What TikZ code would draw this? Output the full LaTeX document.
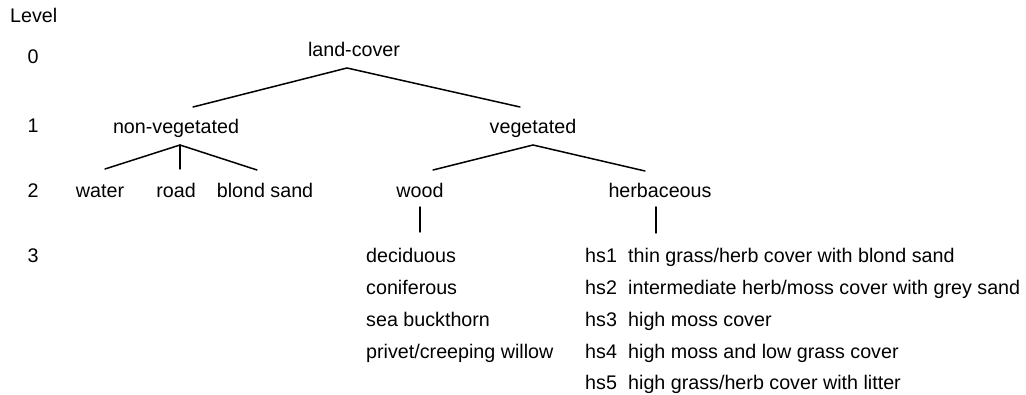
\documentclass[tikz,border=0pt]{standalone}
\usepackage{fontspec}
\setmainfont{Liberation Sans}
\begin{document}
\begin{tikzpicture}[x=1pt,y=-1pt,
  lbl/.style={inner sep=0pt, anchor=base, font=\fontsize{19.7}{24}\selectfont},
  lft/.style={lbl, anchor=base west},
  edge/.style={line width=1.5pt, line cap=round}]
\useasboundingbox (0,0) rectangle (1026,395);
% level column
\node[lft] (level) at (10,23) {Level};
\node[lbl] (l0) at (33,64) {0};
\node[lbl] (l1) at (33,133) {1};
\node[lbl] (l2) at (33,198) {2};
\node[lbl] (l3) at (33,263) {3};
% tree nodes
\node[lbl] (lc) at (354,57) {land-cover};
\node[lbl] (nv) at (176,134) {non-vegetated};
\node[lbl] (veg) at (533,134) {vegetated};
\node[lbl] (water) at (100,198) {water};
\node[lbl] (road) at (176,198) {road};
\node[lbl] (blond) at (265,198) {blond sand};
\node[lbl] (wood) at (420,198) {wood};
\node[lbl] (herb) at (660,198) {herbaceous};
% wood list
\node[lft] (w1) at (366,263) {deciduous};
\node[lft] (w2) at (366,294.7) {coniferous};
\node[lft] (w3) at (366,326.4) {sea buckthorn};
\node[lft] (w4) at (366,358.1) {privet/creeping willow};
% herbaceous list
\node[lft] (h1) at (585,263) {hs1};
\node[lft] (h2) at (585,294.7) {hs2};
\node[lft] (h3) at (585,326.4) {hs3};
\node[lft] (h4) at (585,358.1) {hs4};
\node[lft] (h5) at (585,389.8) {hs5};
\node[lft] (d1) at (628,263) {thin grass/herb cover with blond sand};
\node[lft] (d2) at (628,294.7) {intermediate herb/moss cover with grey sand};
\node[lft] (d3) at (628,326.4) {high moss cover};
\node[lft] (d4) at (628,358.1) {high moss and low grass cover};
\node[lft] (d5) at (628,389.8) {high grass/herb cover with litter};
% connector end points
\coordinate (lcB) at (347,68);
\coordinate (nvT) at (193,107);
\coordinate (vegT) at (520,107);
\coordinate (nvB) at (180,145);
\coordinate (waterT) at (105,169);
\coordinate (roadT) at (180,169);
\coordinate (blondT) at (257,170);
\coordinate (vegB) at (533,145);
\coordinate (woodT) at (433,170);
\coordinate (herbT) at (645,171);
\coordinate (woodB) at (420,207);
\coordinate (woodL) at (420,232);
\coordinate (herbB) at (656,207);
\coordinate (herbL) at (656,233);
% connectors
\draw[edge] (nvT) -- (lcB) -- (vegT);
\draw[edge] (waterT) -- (nvB) -- (blondT);
\draw[edge] (nvB) -- (roadT);
\draw[edge] (woodT) -- (vegB) -- (herbT);
\draw[edge] (woodB) -- (woodL);
\draw[edge] (herbB) -- (herbL);
\end{tikzpicture}
\end{document}
